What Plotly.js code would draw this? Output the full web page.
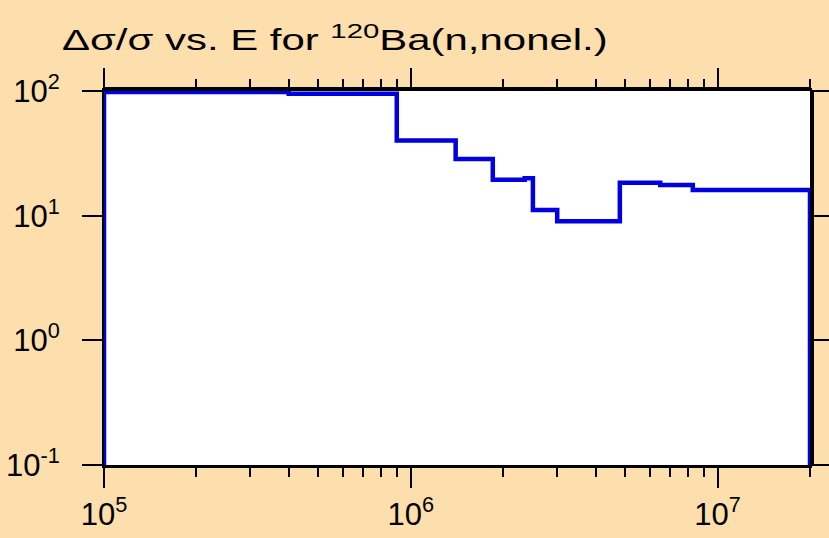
<!DOCTYPE html>
<html>
<head>
<meta charset="utf-8">
<script src="https://cdn.plot.ly/plotly-3.0.1.min.js"></script>
<style>html,body{margin:0;padding:0;background:#FDDEAD;}</style>
</head>
<body>
<div id="chart" style="width:829px;height:538px;"></div>
<script>
// Bin edges (eV) and relative uncertainty (%) per bin
const binEdges = [1e5, 4e5, 9e5, 1.4e6, 1.85e6, 2.35e6, 2.5e6, 3e6, 4.8e6, 6.5e6, 8.3e6, 2e7];
const binValues = [98, 95, 40, 28.5, 19.4, 20, 11.1, 9.0, 18.4, 17.6, 16.1];
const yFloor = 0.1;
const xTickVals = [1e5, 1e6, 1e7];
const xTickText = ['10<sup>5</sup>', '10<sup>6</sup>', '10<sup>7</sup>'];
const yTickVals = [0.1, 1, 10, 100];
const yTickText = ['10<sup>-1</sup>', '10<sup>0</sup>', '10<sup>1</sup>', '10<sup>2</sup>'];
const titleText = 'Δσ/σ vs. E for <sup>120</sup>Ba(n,nonel.)';

// Build the histogram outline from the bins
const sx = [binEdges[0]], sy = [yFloor];
for (let i = 0; i < binValues.length; i++) { sx.push(binEdges[i]); sy.push(binValues[i]); }
sx.push(binEdges[binEdges.length - 1]); sy.push(binValues[binValues.length - 1]);
sx.push(binEdges[binEdges.length - 1]); sy.push(yFloor);

const xr = [Math.log10(binEdges[0]), Math.log10(binEdges[binEdges.length - 1])];
const yr = [-1, 2];
const fam = 'Liberation Sans, Arial, sans-serif';

const trace = {
  x: sx, y: sy, type: 'scatter', mode: 'lines',
  line: {shape: 'hv', color: '#0000E0', width: 4.5},
  hoverinfo: 'skip', showlegend: false
};

const layout = {
  width: 829, height: 538,
  paper_bgcolor: '#FDDEAD', plot_bgcolor: '#FFFFFF',
  margin: {l: 104, r: 19, t: 91, b: 73},
  showlegend: false,
  title: {text: titleText, xref: 'container', yref: 'container',
          x: 62/829, xanchor: 'left', y: 1 - 40/538, yanchor: 'middle',
          font: {family: fam, size: 30, color: '#000'}},
  xaxis: {type: 'log', range: xr, showgrid: false, zeroline: false,
          showline: true, linecolor: '#000', linewidth: 3, mirror: 'ticks',
          ticks: 'outside', ticklen: 20, tickwidth: 2, tickcolor: '#000',
          tickmode: 'array', tickvals: xTickVals, ticktext: xTickText,
          tickfont: {family: fam, size: 31, color: '#000'},
          minor: {ticks: 'outside', ticklen: 9, tickwidth: 2, tickcolor: '#000', dtick: 'D1', showgrid: false}},
  yaxis: {type: 'log', range: yr, showgrid: false, zeroline: false,
          showline: true, linecolor: '#000', linewidth: 2, mirror: 'ticks',
          ticks: 'outside', ticklen: 20, tickwidth: 2, tickcolor: '#000',
          tickmode: 'array', tickvals: yTickVals, ticktext: yTickText, ticklabelstandoff: 16,
          tickfont: {family: fam, size: 31, color: '#000'}},
  shapes: [
    {type: 'line', xref: 'paper', yref: 'paper', ysizemode: 'pixel', yanchor: 1, x0: 0, x1: 1, y0: 2, y1: 2,
     line: {color: '#000', width: 4}, layer: 'above'},
    {type: 'line', xref: 'paper', yref: 'paper', xsizemode: 'pixel', xanchor: 1, x0: 2, x1: 2, y0: 0, y1: 1,
     line: {color: '#000', width: 4}, layer: 'above'}
  ]
};

Plotly.newPlot('chart', [trace], layout, {staticPlot: true, displayModeBar: false}).then(function () {
  // The reference title is drawn horizontally wide: stretch it to span 62..608 px
  const t = document.querySelector('.gtitle');
  if (t) {
    const bb = t.getBBox();
    const target = 608 - 62;
    const s = target / bb.width;
    const x0 = bb.x;
    const prev = t.getAttribute('transform') || '';
    t.setAttribute('transform', prev + ' translate(' + x0 + ',0) scale(' + s + ',1) translate(' + (-x0) + ',0)');
  }
});
</script>
</body>
</html>
